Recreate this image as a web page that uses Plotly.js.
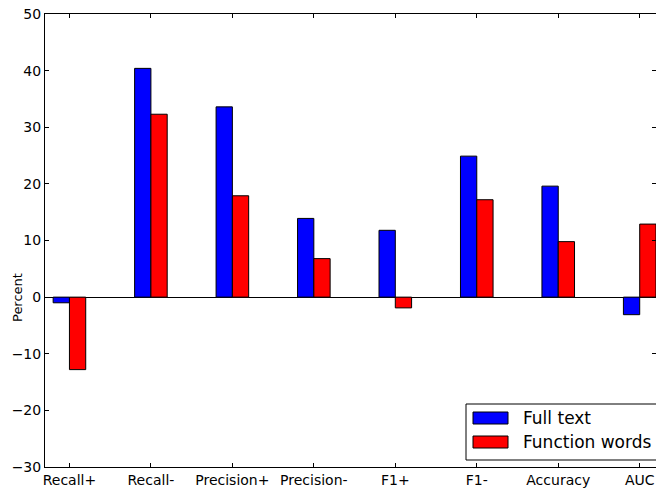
<!DOCTYPE html>
<html>
<head>
<meta charset="utf-8">
<script src="https://cdn.plot.ly/plotly-3.0.1.min.js"></script>
<style>html,body{margin:0;padding:0;background:#fff;}#chart{width:656px;height:489px;}</style>
</head>
<body>
<div id="chart"></div>
<script>
const categories = ["Recall+", "Recall-", "Precision+", "Precision-", "F1+", "F1-", "Accuracy", "AUC"];
const fullText = [-1.0, 40.4, 33.6, 13.9, 11.8, 24.9, 19.6, -3.1];
const functionWords = [-12.8, 32.3, 17.9, 6.8, -1.9, 17.2, 9.8, 12.9];
const seriesNames = ["Full text", "Function words"];
const seriesColors = ["#0000ff", "#ff0000"];
const yTicks = [-30, -20, -10, 0, 10, 20, 30, 40, 50];
const yTickText = ["\u221230", "\u221220", "\u221210", "0", "10", "20", "30", "40", "50"];

const font = "DejaVu Sans, sans-serif";
const W = 611, H = 453, L = 45, T = 14;
const px = x => (x - L) / W;
const py = y => (T + H - y) / H;

const traces = [
  {type: "bar", name: seriesNames[0], x: categories, y: fullText, width: 0.2, offset: -0.2,
   marker: {color: seriesColors[0], line: {color: "#000", width: 1}}},
  {type: "bar", name: seriesNames[1], x: categories, y: functionWords, width: 0.2, offset: 0,
   marker: {color: seriesColors[1], line: {color: "#000", width: 1}}}
];

const shapes = [
  {type: "rect", xref: "paper", yref: "paper", x0: px(466), x1: px(662), y0: py(460), y1: py(404),
   line: {color: "#000", width: 1}, fillcolor: "#fff", layer: "above"}
];
const annotations = [
  {text: "Percent", xref: "paper", yref: "paper", x: px(17), y: py(298), textangle: -90,
   showarrow: false, font: {family: font, size: 13, color: "#000"}, xanchor: "center", yanchor: "middle"}
];
seriesNames.forEach((n, i) => {
  const yc = 418 + i * 24;
  shapes.push({type: "rect", xref: "paper", yref: "paper", x0: px(473), x1: px(508),
    y0: py(yc + 6), y1: py(yc - 6), line: {color: "#000", width: 1}, fillcolor: seriesColors[i], layer: "above"});
  annotations.push({text: n, xref: "paper", yref: "paper", x: px(521), y: py(yc), xanchor: "left",
    yanchor: "middle", showarrow: false, font: {family: font, size: 17, color: "#000"}});
});

const layout = {
  width: 656, height: 489,
  margin: {l: L, r: 0, t: T, b: 22, pad: 0},
  paper_bgcolor: "#fff", plot_bgcolor: "#fff",
  barmode: "overlay",
  showlegend: false,
  font: {family: font, size: 14, color: "#000"},
  xaxis: {type: "category", range: [-0.3, 7.2], showgrid: false, zeroline: false,
    showline: true, linecolor: "#000", linewidth: 1, mirror: "ticks",
    ticks: "inside", ticklen: 4, tickcolor: "#000", tickfont: {family: font, size: 14}},
  yaxis: {range: [-30, 50], tickvals: yTicks, ticktext: yTickText, showgrid: false,
    zeroline: true, zerolinecolor: "#000", zerolinewidth: 1,
    showline: true, linecolor: "#000", linewidth: 1, mirror: "ticks",
    ticks: "inside", ticklen: 4, tickcolor: "#000", tickfont: {family: font, size: 14}},
  shapes: shapes,
  annotations: annotations
};
Plotly.newPlot("chart", traces, layout, {staticPlot: true});
</script>
</body>
</html>
